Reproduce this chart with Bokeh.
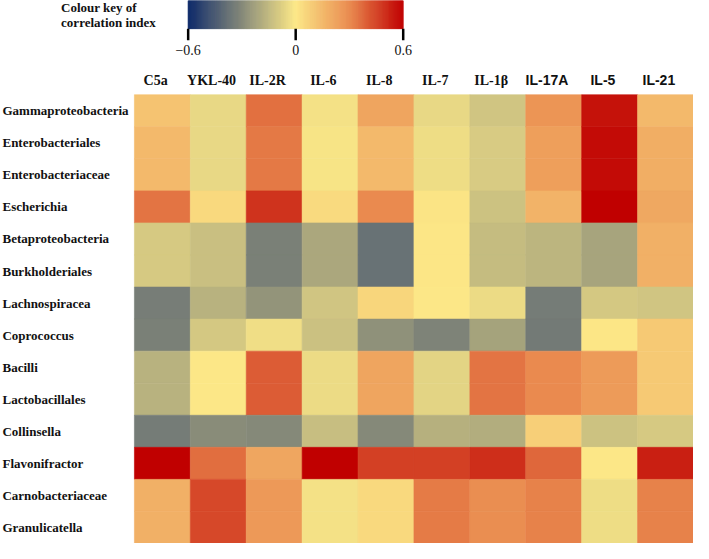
import numpy as np
from bokeh.plotting import figure
from bokeh.models import ColumnDataSource, LinearColorMapper, Range1d
from bokeh.transform import transform
from bokeh.core.properties import value
from bokeh.embed import file_html
from bokeh.resources import INLINE

# ---------------- data ----------------
taxa = ["Gammaproteobacteria", "Enterobacteriales", "Enterobacteriaceae", "Escherichia",
        "Betaproteobacteria", "Burkholderiales", "Lachnospiracea", "Coprococcus",
        "Bacilli", "Lactobacillales", "Collinsella", "Flavonifractor",
        "Carnobacteriaceae", "Granulicatella"]
cytokines = ["C5a", "YKL-40", "IL-2R", "IL-6", "IL-8", "IL-7", "IL-1β", "IL-17A", "IL-5", "IL-21"]
SERIF = "'Liberation Serif', 'Times New Roman', serif"
SANS = "'Liberation Sans', Arial, sans-serif"
label_fonts = [SERIF] * 7 + [SANS] * 3

c5a   = [0.12, 0.15, 0.15, 0.35, -0.095, -0.095, -0.335, -0.325, -0.17, -0.17, -0.34, 0.60, 0.18, 0.18]
ykl40 = [-0.05, -0.05, -0.05, 0.05, -0.13, -0.13, -0.17, -0.10, 0.0, 0.0, -0.29, 0.365, 0.445, 0.445]
il2r  = [0.36, 0.34, 0.34, 0.49, -0.325, -0.325, -0.265, -0.03, 0.40, 0.40, -0.30, 0.215, 0.255, 0.255]
il6   = [-0.02, -0.01, -0.01, 0.045, -0.205, -0.205, -0.11, -0.125, -0.04, -0.04, -0.135, 0.60, -0.02, -0.02]
il8   = [0.22, 0.15, 0.15, 0.30, -0.375, -0.375, 0.06, -0.275, 0.22, 0.22, -0.30, 0.46, 0.05, 0.05]
il7   = [-0.05, -0.035, -0.035, 0.01, 0.005, 0.005, 0.0, -0.315, -0.065, -0.065, -0.175, 0.46, 0.335, 0.335]
il1b  = [-0.11, -0.09, -0.09, -0.12, -0.14, -0.14, -0.04, -0.22, 0.35, 0.35, -0.185, 0.50, 0.295, 0.295]
il17a = [0.27, 0.235, 0.235, 0.17, -0.16, -0.16, -0.34, -0.345, 0.30, 0.30, 0.08, 0.375, 0.32, 0.32]
il5   = [0.56, 0.575, 0.575, 0.60, -0.215, -0.215, -0.10, 0.005, 0.25, 0.25, -0.12, 0.0, -0.035, -0.035]
il21  = [0.15, 0.19, 0.19, 0.21, 0.18, 0.18, -0.11, 0.10, 0.10, 0.10, -0.095, 0.53, 0.32, 0.32]
columns = [c5a, ykl40, il2r, il6, il8, il7, il1b, il17a, il5, il21]

key_ticks = [-0.6, 0.0, 0.6]
key_tick_labels = ["\u22120.6", "0", "0.6"]
key_title = ["Colour key of", "correlation index"]

# ---------------- palette ----------------
stops_v = [-0.6, 0.0, 0.3, 0.6]
stops_c = [(14, 42, 106), (252, 232, 135), (234, 140, 80), (192, 0, 0)]
grid = np.linspace(-0.6, 0.6, 256)
palette = []
for g in grid:
    rgb = [np.interp(g, stops_v, [c[k] for c in stops_c]) for k in range(3)]
    palette.append("#%02x%02x%02x" % tuple(int(round(v)) for v in rgb))
mapper = LinearColorMapper(palette=palette, low=-0.6, high=0.6)

# ---------------- geometry ----------------
W, H = 693, 543
SX, SY = W / 709, H / 559
LEFT, TOP = 137 * SX, 97 * SY
CW = (709 - 137) * SX / len(cytokines)
RH = (559 - 97) * SY / len(taxa)

def dx(rx):
    return (rx * SX - LEFT) / CW

def dy(ry):
    return (ry * SY - TOP) / RH

p = figure(width=W, height=H, x_range=Range1d(dx(0), len(cytokines)),
           y_range=Range1d(len(taxa), dy(0)), x_axis_type=None, y_axis_type=None,
           toolbar_location=None, output_backend="svg", min_border=0,
           outline_line_color=None, background_fill_color="white",
           border_fill_color="white")

# heatmap
xs, ys, vals = [], [], []
for i, col in enumerate(columns):
    for j, v in enumerate(col):
        xs.append(i + 0.5)
        ys.append(j + 0.5)
        vals.append(v)
src = ColumnDataSource(dict(x=xs, y=ys, v=vals))
p.rect(x="x", y="y", width=1.0, height=1.0, source=src,
       fill_color=transform("v", mapper), line_color=transform("v", mapper), line_width=0.6)

# row labels
p.text(x=[dx(2)] * len(taxa), y=[j + 0.5 for j in range(len(taxa))], text=taxa,
       text_font=value(SERIF), text_font_style="bold",
       text_font_size="13px", text_align="left", text_baseline="middle", text_color="#111111")

# column labels
csrc = ColumnDataSource(dict(x=[i + 0.5 - 0.12 for i in range(len(cytokines))],
                             y=[dy(82)] * len(cytokines), text=cytokines, font=label_fonts))
p.text(x="x", y="y", text="text", text_font="font", source=csrc, text_font_style="bold",
       text_font_size="14px", text_align="center", text_baseline="middle", text_color="#111111")

# colour key
kx0, kx1 = dx(192), dx(412)
N = 220
edges = np.linspace(-0.6, 0.6, N + 1)
kv = (edges[:-1] + edges[1:]) / 2
kleft = kx0 + (edges[:-1] + 0.6) / 1.2 * (kx1 - kx0)
kright = kx0 + (edges[1:] + 0.6) / 1.2 * (kx1 - kx0)
ksrc = ColumnDataSource(dict(left=kleft, right=kright, v=kv))
p.quad(left="left", right="right", top=dy(0), bottom=dy(29), source=ksrc,
       fill_color=transform("v", mapper), line_color=transform("v", mapper), line_width=0.8)

tx = [kx0 + (t + 0.6) / 1.2 * (kx1 - kx0) for t in key_ticks]
p.segment(x0=tx, y0=[dy(29)] * 3, x1=tx, y1=[dy(41)] * 3, line_color="black", line_width=2.5)
p.text(x=tx, y=[dy(51)] * 3, text=key_tick_labels, text_font=value(SERIF),
       text_font_size="14px", text_align="center", text_baseline="middle", text_color="#111111")

p.text(x=[dx(62)] * 2, y=[dy(7.5), dy(22.3)], text=key_title, text_font=value(SERIF),
       text_font_style="bold", text_font_size="13px", text_align="left", text_baseline="middle",
       text_color="#111111")

open("out.html", "w").write(file_html(p, INLINE))
